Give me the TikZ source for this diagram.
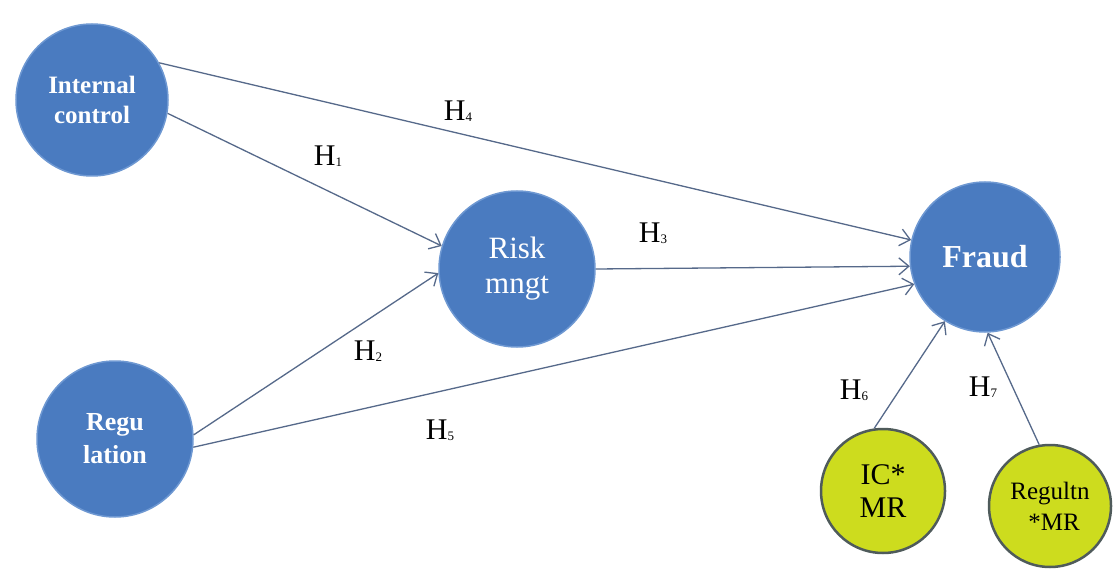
\documentclass[tikz,border=0pt]{standalone}
\usepackage{fontspec}
\setmainfont{Liberation Serif}[BoldFont={Liberation Serif Bold}]
\usetikzlibrary{arrows.meta}
\definecolor{cblue}{HTML}{4A7BC0}
\definecolor{cblueedge}{HTML}{6E98D2}
\definecolor{cyel}{HTML}{CDDC1E}
\definecolor{cyeledge}{HTML}{4F5B5B}
\definecolor{cline}{HTML}{56698A}
\tikzset{
  bluec/.style={circle, fill=cblue, draw=cblueedge, line width=1.5pt, text=white, align=center, inner sep=0pt},
  yelc/.style={circle, fill=cyel, draw=cyeledge, line width=2.5pt, text=black, align=center, inner sep=0pt},
  conn/.style={draw=cline, line width=1.3pt, -{Straight Barb[length=10pt,width=17pt,line width=1.3pt]}},
  hlab/.style={text=black, font=\fontsize{30}{30}\selectfont, inner sep=0pt},
}
\newcommand{\hsub}[1]{H\raisebox{-1pt}{\fontsize{13}{13}\selectfont #1}}
\begin{document}
\begin{tikzpicture}[x=1pt,y=-1pt]
\useasboundingbox (0,0) rectangle (1113,569);
\fill[white] (0,0) rectangle (1113,569);
\node[bluec, minimum size=152pt, font=\bfseries\fontsize{25}{30}\selectfont] (ic) at (92,100) {Internal\\control};
\node[bluec, minimum size=156pt, font=\bfseries\fontsize{26}{33}\selectfont] (reg) at (115,439) {Regu\\lation};
\node[bluec, minimum size=156pt, font=\fontsize{31}{35}\selectfont] (risk) at (517,269) {Risk\\mngt};
\node[bluec, minimum size=150pt, font=\bfseries\fontsize{32}{35}\selectfont] (fraud) at (985,257) {Fraud};
\node[yelc, minimum size=124pt, font=\fontsize{30}{33}\selectfont] (icmr) at (883,491) {IC*\\MR};
\node[yelc, minimum size=122pt, font=\fontsize{25}{31}\selectfont] (regmr) at (1050,506) {Regultn\\\hspace*{8pt}*MR};

\draw[conn] (ic.-10) -- (risk.163);
\draw[conn] (ic.29) -- (fraud.167);
\draw[conn] (reg.3) -- (risk.183);
\draw[conn] (reg.-6) -- (fraud.201);
\draw[conn] (risk.0) -- (fraud.187);
\draw[conn] (icmr.98) -- (fraud.238);
\draw[conn] (regmr.100) -- (fraud.272);

\node[hlab] (h1) at (328,156) {\hsub{1}};
\node[hlab] (h4) at (458,111) {\hsub{4}};
\node[hlab] (h3) at (653,233) {\hsub{3}};
\node[hlab] (h2) at (368,351) {\hsub{2}};
\node[hlab] (h5) at (440,430) {\hsub{5}};
\node[hlab] (h6) at (854,390) {\hsub{6}};
\node[hlab] (h7) at (983,387) {\hsub{7}};
\end{tikzpicture}
\end{document}
